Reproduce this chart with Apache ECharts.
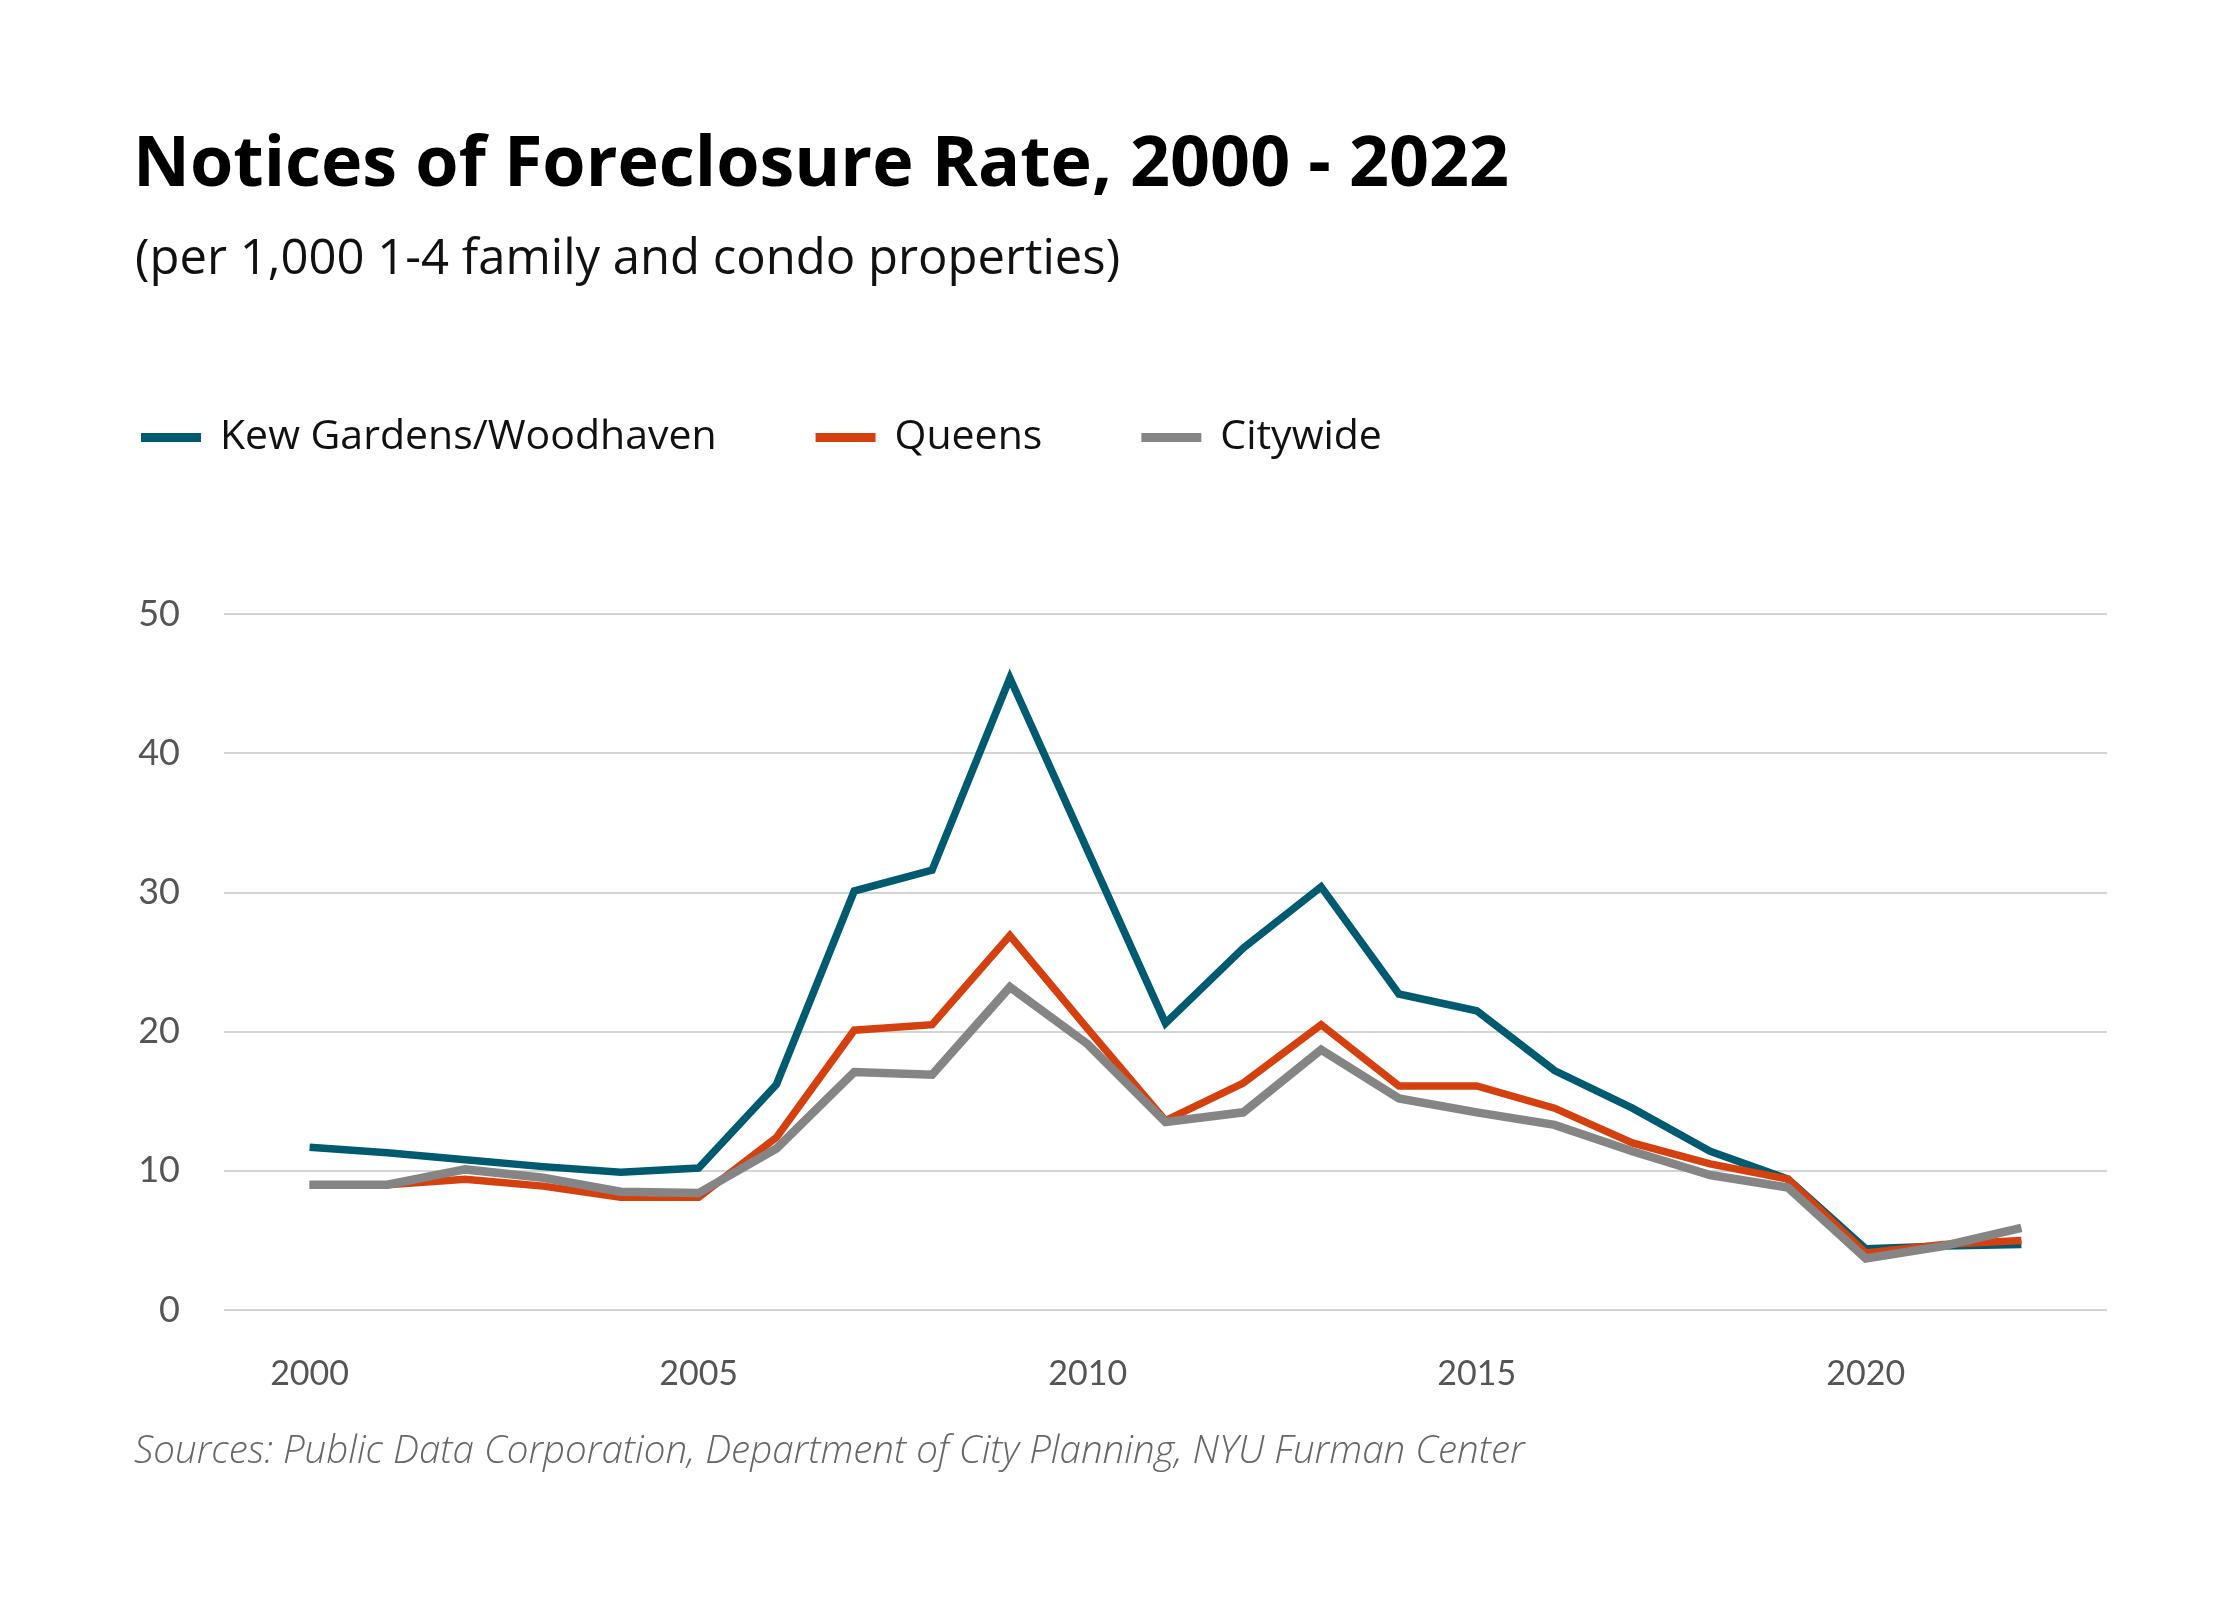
<!DOCTYPE html>
<html>
<head>
<meta charset="utf-8">
<script src="https://cdn.jsdelivr.net/npm/echarts@6/dist/echarts.min.js"></script>
<style>
  html, body { margin: 0; padding: 0; background: #fff; }
  #chart { width: 2240px; height: 1600px; }
</style>
</head>
<body>
<div id="chart"></div>
<script>
const years = [2000, 2001, 2002, 2003, 2004, 2005, 2006, 2007, 2008, 2009, 2010, 2011,
  2012, 2013, 2014, 2015, 2016, 2017, 2018, 2019, 2020, 2021, 2022];
const kewGardens = [11.7, 11.3, 10.8, 10.3, 9.9, 10.2, 16.2, 30.1, 31.6, 45.4, 33.0, 20.6,
  26.0, 30.4, 22.7, 21.5, 17.2, 14.5, 11.4, 9.4, 4.4, 4.6, 4.7];
const queens = [9.0, 9.0, 9.4, 8.9, 8.1, 8.1, 12.4, 20.1, 20.5, 26.9, 20.2, 13.6,
  16.3, 20.5, 16.1, 16.1, 14.5, 12.0, 10.5, 9.4, 4.1, 4.7, 5.0];
const citywide = [9.0, 9.0, 10.1, 9.5, 8.5, 8.4, 11.6, 17.1, 16.9, 23.2, 19.1, 13.5,
  14.2, 18.7, 15.2, 14.2, 13.3, 11.4, 9.7, 8.8, 3.7, 4.6, 5.9];
const xTickLabels = [2000, 2005, 2010, 2015, 2020];
const seriesNames = ['Kew Gardens/Woodhaven', 'Queens', 'Citywide'];
const seriesColors = ['#005a70', '#d4410f', '#858585'];

const chart = echarts.init(document.getElementById('chart'), null, { renderer: 'canvas' });

const pairs = (vals) => years.map((y, i) => [y, vals[i]]);

const makeLine = (name, color, vals, width) => ({
  name: name,
  type: 'line',
  data: pairs(vals),
  symbol: 'none',
  lineStyle: { color: color, width: width, join: 'miter' },
  itemStyle: { color: color },
  emphasis: { disabled: true }
});

const option = {
  backgroundColor: '#ffffff',
  animation: false,
  title: [
    {
      text: 'Notices of Foreclosure Rate, 2000 - 2022',
      left: 133,
      top: 131,
      padding: 0,
      textStyle: {
        fontFamily: 'Open Sans',
        fontWeight: 'bold',
        fontSize: 70,
        lineHeight: 70,
        color: '#000'
      }
    },
    {
      text: '(per 1,000 1-4 family and condo properties)',
      left: 135,
      top: 236,
      padding: 0,
      textStyle: {
        fontFamily: 'Open Sans',
        fontWeight: 'normal',
        fontSize: 49,
        lineHeight: 49,
        color: '#111'
      }
    },
    {
      text: 'Sources: Public Data Corporation, Department of City Planning, NYU Furman Center',
      left: 134,
      top: 1433,
      padding: 0,
      textStyle: {
        fontFamily: 'Open Sans',
        fontStyle: 'italic',
        fontWeight: 300,
        fontSize: 38.5,
        lineHeight: 38.5,
        color: '#666'
      }
    }
  ],
  legend: {
    data: seriesNames,
    left: 141,
    top: 417,
    padding: 0,
    icon: 'rect',
    itemWidth: 60,
    itemHeight: 9,
    itemGap: 99,
    selectedMode: false,
    textStyle: {
      fontFamily: 'Open Sans',
      fontSize: 41,
      color: '#111',
      padding: [0, 0, 0, 14]
    }
  },
  grid: {
    left: 224,
    right: 133,
    top: 614,
    bottom: 290,
    containLabel: false
  },
  xAxis: {
    type: 'value',
    min: 1998.9,
    max: 2023.1,
    axisLine: { show: false },
    axisTick: { show: false },
    splitLine: { show: false },
    axisLabel: {
      customValues: xTickLabels,
      margin: 47,
      fontFamily: 'Lato',
      fontSize: 34,
      color: '#555',
      formatter: (v) => String(v)
    }
  },
  yAxis: {
    type: 'value',
    min: 0,
    max: 50,
    interval: 10,
    axisLine: { show: false },
    axisTick: { show: false },
    splitLine: { lineStyle: { color: '#d4d4d4', width: 2 } },
    axisLabel: {
      margin: 44,
      fontFamily: 'Lato',
      fontSize: 36,
      color: '#555'
    }
  },
  series: [
    makeLine(seriesNames[0], seriesColors[0], kewGardens, 7.5),
    makeLine(seriesNames[1], seriesColors[1], queens, 7.5),
    makeLine(seriesNames[2], seriesColors[2], citywide, 8.5)
  ]
};

chart.setOption(option);
</script>
</body>
</html>
